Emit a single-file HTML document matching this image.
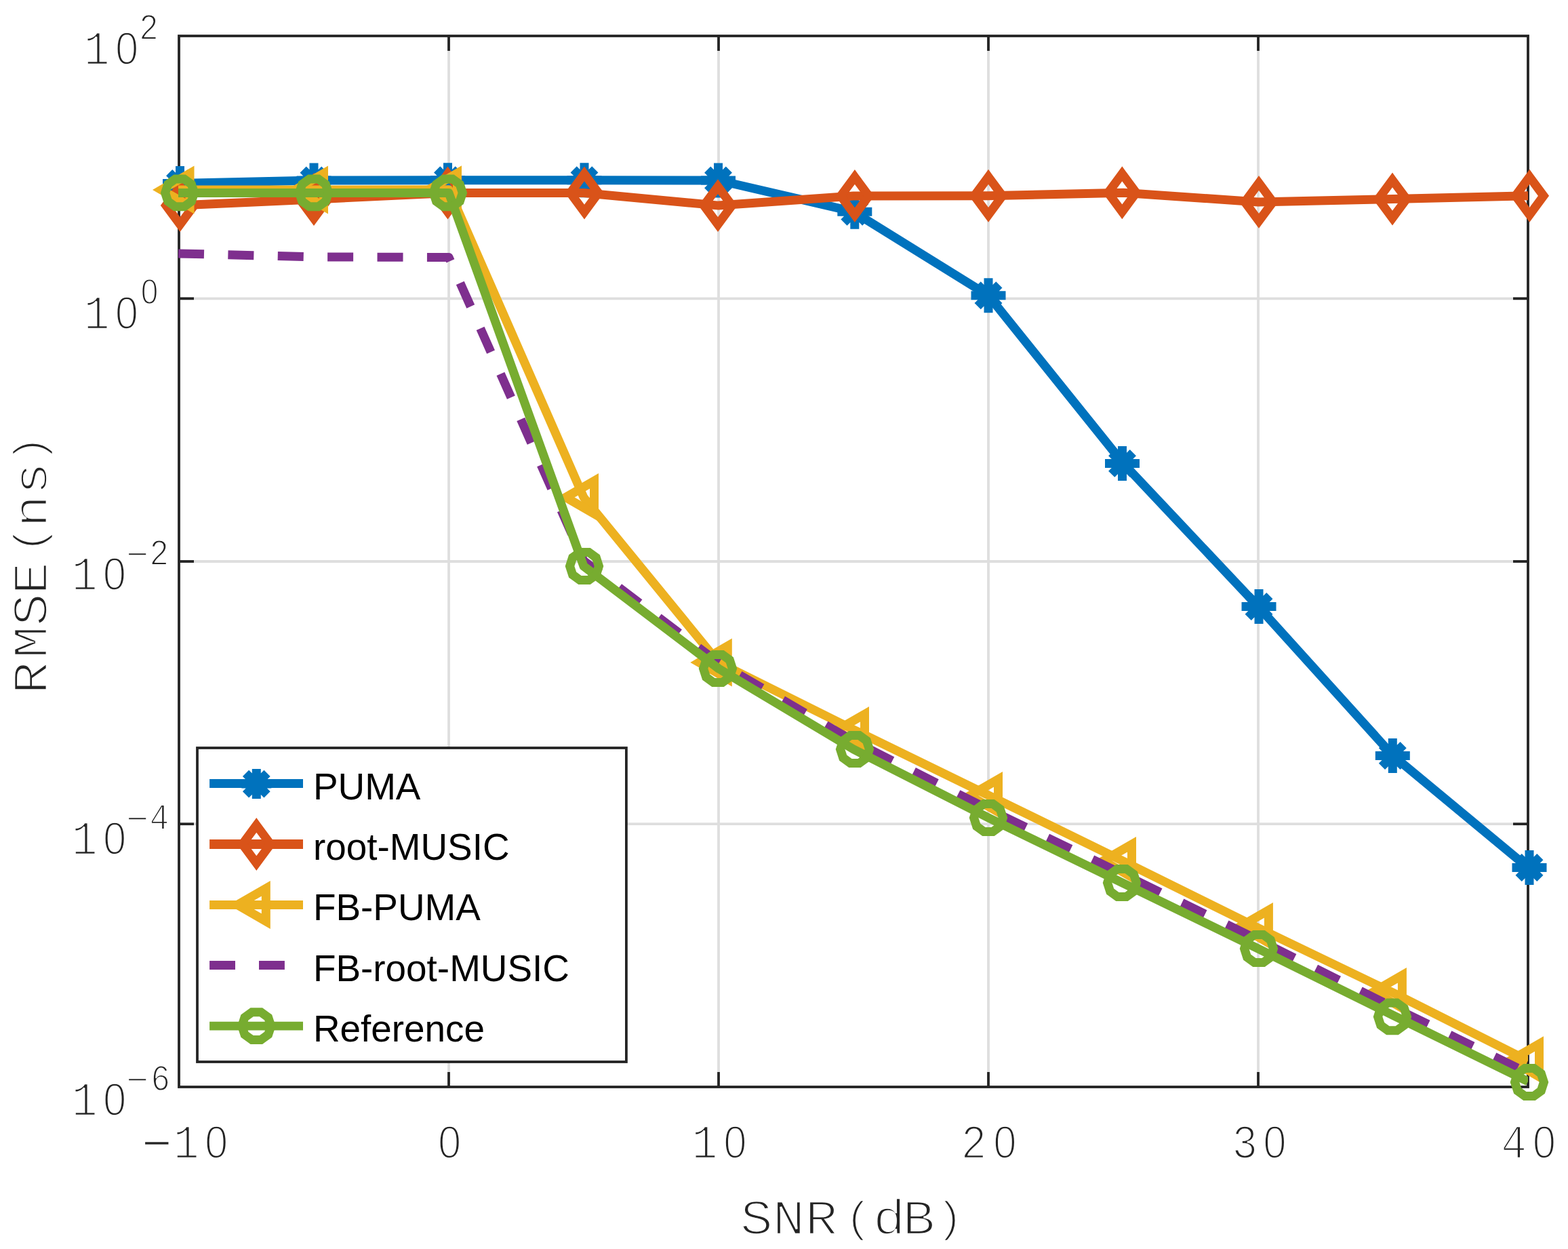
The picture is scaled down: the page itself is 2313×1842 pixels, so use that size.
<!DOCTYPE html>
<html lang="en"><head><meta charset="utf-8"><title>RMSE versus SNR</title>
<style>html,body{margin:0;padding:0;background:#fff}body{width:2313px;height:1842px;overflow:hidden}svg{display:block}.mono{font-family:"Liberation Mono",monospace;fill:#242424}.sans{font-family:"Liberation Sans",sans-serif;fill:#000}.z{font-family:"Liberation Sans",sans-serif}</style></head><body>
<svg width="2313" height="1842" viewBox="0 0 2313 1842">
<defs><clipPath id="ax"><rect x="262.8" y="53" width="1991.2" height="1550"/></clipPath></defs>
<rect width="2313" height="1842" fill="#fff"/>
<g stroke="#dedede" stroke-width="3.8" fill="none">
<line x1="662" y1="53" x2="662" y2="1603"/>
<line x1="1060" y1="53" x2="1060" y2="1603"/>
<line x1="1458" y1="53" x2="1458" y2="1603"/>
<line x1="1856" y1="53" x2="1856" y2="1603"/>
<line x1="264" y1="440.3" x2="2254" y2="440.3"/>
<line x1="264" y1="828" x2="2254" y2="828"/>
<line x1="264" y1="1215.2" x2="2254" y2="1215.2"/>
</g>
<g stroke="#242424" stroke-width="3.8" fill="none" stroke-linecap="butt">
<rect x="264" y="53" width="1990" height="1550"/>
<line x1="662" y1="1603" x2="662" y2="1581"/>
<line x1="662" y1="53" x2="662" y2="75"/>
<line x1="1060" y1="1603" x2="1060" y2="1581"/>
<line x1="1060" y1="53" x2="1060" y2="75"/>
<line x1="1458" y1="1603" x2="1458" y2="1581"/>
<line x1="1458" y1="53" x2="1458" y2="75"/>
<line x1="1856" y1="1603" x2="1856" y2="1581"/>
<line x1="1856" y1="53" x2="1856" y2="75"/>
<line x1="264" y1="440.3" x2="286" y2="440.3"/>
<line x1="2254" y1="440.3" x2="2232" y2="440.3"/>
<line x1="264" y1="828" x2="286" y2="828"/>
<line x1="2254" y1="828" x2="2232" y2="828"/>
<line x1="264" y1="1215.2" x2="286" y2="1215.2"/>
<line x1="2254" y1="1215.2" x2="2232" y2="1215.2"/>
</g>
<g clip-path="url(#ax)"><polyline points="263,270.4 463,266 662,265.7 861,265.7 1060,266 1259,312.2 1458,435.8 1657,683.4 1856,894.5 2055,1114.5 2254,1279.5" stroke="#0072bd" stroke-width="13" fill="none" stroke-linejoin="round"/></g>
<g>
<path d="M240 270.4H291M265.5 244.9V295.9M249.66 254.56L281.34 286.24M249.66 286.24L281.34 254.56" stroke="#0072bd" stroke-width="13" fill="none"/>
<path d="M437.5 266H488.5M463 240.5V291.5M447.16 250.16L478.84 281.84M447.16 281.84L478.84 250.16" stroke="#0072bd" stroke-width="13" fill="none"/>
<path d="M635 265.7H686M660.5 240.2V291.2M644.66 249.86L676.34 281.54M644.66 281.54L676.34 249.86" stroke="#0072bd" stroke-width="13" fill="none"/>
<path d="M836.5 265.7H887.5M862 240.2V291.2M846.16 249.86L877.84 281.54M846.16 281.54L877.84 249.86" stroke="#0072bd" stroke-width="13" fill="none"/>
<path d="M1034 266H1085M1059.5 240.5V291.5M1043.66 250.16L1075.34 281.84M1043.66 281.84L1075.34 250.16" stroke="#0072bd" stroke-width="13" fill="none"/>
<path d="M1235.3 312.2H1286.3M1260.8 286.7V337.7M1244.96 296.36L1276.64 328.04M1244.96 328.04L1276.64 296.36" stroke="#0072bd" stroke-width="13" fill="none"/>
<path d="M1432.5 435.8H1483.5M1458 410.3V461.3M1442.16 419.96L1473.84 451.64M1442.16 451.64L1473.84 419.96" stroke="#0072bd" stroke-width="13" fill="none"/>
<path d="M1630 683.4H1681M1655.5 657.9V708.9M1639.66 667.56L1671.34 699.24M1639.66 699.24L1671.34 667.56" stroke="#0072bd" stroke-width="13" fill="none"/>
<path d="M1831.5 894.5H1882.5M1857 869V920M1841.16 878.66L1872.84 910.34M1841.16 910.34L1872.84 878.66" stroke="#0072bd" stroke-width="13" fill="none"/>
<path d="M2028.8 1114.5H2079.8M2054.3 1089V1140M2038.46 1098.66L2070.14 1130.34M2038.46 1130.34L2070.14 1098.66" stroke="#0072bd" stroke-width="13" fill="none"/>
<path d="M2230.5 1279.5H2281.5M2256 1254V1305M2240.16 1263.66L2271.84 1295.34M2240.16 1295.34L2271.84 1263.66" stroke="#0072bd" stroke-width="13" fill="none"/>
</g>
<g clip-path="url(#ax)"><polyline points="263,303.1 463,294 662,284.5 861,284.5 1060,303.1 1259,289 1458,288.8 1657,284.3 1856,297.9 2055,293.5 2254,288.8" stroke="#d95319" stroke-width="13" fill="none" stroke-linejoin="round"/></g>
<g>
<path d="M265.6 275.1L286.3 303.1L265.6 331.1L244.9 303.1Z" stroke="#d95319" stroke-width="13" fill="none" stroke-linejoin="miter"/>
<path d="M463 266L483.7 294L463 322L442.3 294Z" stroke="#d95319" stroke-width="13" fill="none" stroke-linejoin="miter"/>
<path d="M660.5 256.5L681.2 284.5L660.5 312.5L639.8 284.5Z" stroke="#d95319" stroke-width="13" fill="none" stroke-linejoin="miter"/>
<path d="M862 256.5L882.7 284.5L862 312.5L841.3 284.5Z" stroke="#d95319" stroke-width="13" fill="none" stroke-linejoin="miter"/>
<path d="M1059 275.1L1079.7 303.1L1059 331.1L1038.3 303.1Z" stroke="#d95319" stroke-width="13" fill="none" stroke-linejoin="miter"/>
<path d="M1260.9 261L1281.6 289L1260.9 317L1240.2 289Z" stroke="#d95319" stroke-width="13" fill="none" stroke-linejoin="miter"/>
<path d="M1458 260.8L1478.7 288.8L1458 316.8L1437.3 288.8Z" stroke="#d95319" stroke-width="13" fill="none" stroke-linejoin="miter"/>
<path d="M1655.3 256.3L1676 284.3L1655.3 312.3L1634.6 284.3Z" stroke="#d95319" stroke-width="13" fill="none" stroke-linejoin="miter"/>
<path d="M1857 269.9L1877.7 297.9L1857 325.9L1836.3 297.9Z" stroke="#d95319" stroke-width="13" fill="none" stroke-linejoin="miter"/>
<path d="M2054 265.5L2074.7 293.5L2054 321.5L2033.3 293.5Z" stroke="#d95319" stroke-width="13" fill="none" stroke-linejoin="miter"/>
<path d="M2256.3 260.8L2277 288.8L2256.3 316.8L2235.6 288.8Z" stroke="#d95319" stroke-width="13" fill="none" stroke-linejoin="miter"/>
</g>
<g clip-path="url(#ax)"><polyline points="263,280 463,280 662,279.7 861,733.5 1060,977 1259,1076 1458,1172.8 1657,1270.2 1856,1368.5 2055,1464.2 2254,1564.2" stroke="#edb120" stroke-width="13" fill="none" stroke-linejoin="round"/></g>
<g>
<path d="M238 280L280 255.75L280 304.25Z" stroke="#edb120" stroke-width="13" fill="none" stroke-linejoin="miter"/>
<path d="M435.5 280L477.5 255.75L477.5 304.25Z" stroke="#edb120" stroke-width="13" fill="none" stroke-linejoin="miter"/>
<path d="M632.5 279.7L674.5 255.45L674.5 303.95Z" stroke="#edb120" stroke-width="13" fill="none" stroke-linejoin="miter"/>
<path d="M834.5 733.5L876.5 709.25L876.5 757.75Z" stroke="#edb120" stroke-width="13" fill="none" stroke-linejoin="miter"/>
<path d="M1031.3 977L1073.3 952.75L1073.3 1001.25Z" stroke="#edb120" stroke-width="13" fill="none" stroke-linejoin="miter"/>
<path d="M1233.5 1077.5L1275.5 1053.25L1275.5 1101.75Z" stroke="#edb120" stroke-width="13" fill="none" stroke-linejoin="miter"/>
<path d="M1430.5 1173.5L1472.5 1149.25L1472.5 1197.75Z" stroke="#edb120" stroke-width="13" fill="none" stroke-linejoin="miter"/>
<path d="M1627.5 1269.5L1669.5 1245.25L1669.5 1293.75Z" stroke="#edb120" stroke-width="13" fill="none" stroke-linejoin="miter"/>
<path d="M1829.4 1366.5L1871.4 1342.25L1871.4 1390.75Z" stroke="#edb120" stroke-width="13" fill="none" stroke-linejoin="miter"/>
<path d="M2026.4 1462.6L2068.4 1438.35L2068.4 1486.85Z" stroke="#edb120" stroke-width="13" fill="none" stroke-linejoin="miter"/>
<path d="M2228.5 1563.7L2270.5 1539.45L2270.5 1587.95Z" stroke="#edb120" stroke-width="13" fill="none" stroke-linejoin="miter"/>
</g>
<g clip-path="url(#ax)"><polyline points="263,373.9 463,378.9 662,379.5 861,827 1060,977.5 1259,1093 1458,1193.5 1657,1289.5 1856,1386 2055,1485.5 2254,1582.5" stroke="#7e2f8e" stroke-width="13" fill="none" stroke-linejoin="round" stroke-dasharray="38 35.4"/></g>
<g clip-path="url(#ax)"><polyline points="263,284.4 463,284.45 662,284.4 861,835 1060,986 1259,1105 1458,1206 1657,1302.6 1856,1399.2 2055,1497.4 2254,1595" stroke="#77ac30" stroke-width="13" fill="none" stroke-linejoin="round"/></g>
<g>
<path d="M286.55 284.4L282.45 297.01L271.73 304.8L258.47 304.8L247.75 297.01L243.65 284.4L247.75 271.79L258.47 264L271.73 264L282.45 271.79Z" stroke="#77ac30" stroke-width="13" fill="none" stroke-linejoin="miter"/>
<path d="M484.45 284.45L480.35 297.06L469.63 304.85L456.37 304.85L445.65 297.06L441.55 284.45L445.65 271.84L456.37 264.05L469.63 264.05L480.35 271.84Z" stroke="#77ac30" stroke-width="13" fill="none" stroke-linejoin="miter"/>
<path d="M682.35 284.4L678.25 297.01L667.53 304.8L654.27 304.8L643.55 297.01L639.45 284.4L643.55 271.79L654.27 264L667.53 264L678.25 271.79Z" stroke="#77ac30" stroke-width="13" fill="none" stroke-linejoin="miter"/>
<path d="M883.45 835L879.35 847.61L868.63 855.4L855.37 855.4L844.65 847.61L840.55 835L844.65 822.39L855.37 814.6L868.63 814.6L879.35 822.39Z" stroke="#77ac30" stroke-width="13" fill="none" stroke-linejoin="miter"/>
<path d="M1080.45 986L1076.35 998.61L1065.63 1006.4L1052.37 1006.4L1041.65 998.61L1037.55 986L1041.65 973.39L1052.37 965.6L1065.63 965.6L1076.35 973.39Z" stroke="#77ac30" stroke-width="13" fill="none" stroke-linejoin="miter"/>
<path d="M1282.45 1105L1278.35 1117.61L1267.63 1125.4L1254.37 1125.4L1243.65 1117.61L1239.55 1105L1243.65 1092.39L1254.37 1084.6L1267.63 1084.6L1278.35 1092.39Z" stroke="#77ac30" stroke-width="13" fill="none" stroke-linejoin="miter"/>
<path d="M1479.45 1206L1475.35 1218.61L1464.63 1226.4L1451.37 1226.4L1440.65 1218.61L1436.55 1206L1440.65 1193.39L1451.37 1185.6L1464.63 1185.6L1475.35 1193.39Z" stroke="#77ac30" stroke-width="13" fill="none" stroke-linejoin="miter"/>
<path d="M1676.45 1302L1672.35 1314.61L1661.63 1322.4L1648.37 1322.4L1637.65 1314.61L1633.55 1302L1637.65 1289.39L1648.37 1281.6L1661.63 1281.6L1672.35 1289.39Z" stroke="#77ac30" stroke-width="13" fill="none" stroke-linejoin="miter"/>
<path d="M1878.45 1399L1874.35 1411.61L1863.63 1419.4L1850.37 1419.4L1839.65 1411.61L1835.55 1399L1839.65 1386.39L1850.37 1378.6L1863.63 1378.6L1874.35 1386.39Z" stroke="#77ac30" stroke-width="13" fill="none" stroke-linejoin="miter"/>
<path d="M2075.45 1499.4L2071.35 1512.01L2060.63 1519.8L2047.37 1519.8L2036.65 1512.01L2032.55 1499.4L2036.65 1486.79L2047.37 1479L2060.63 1479L2071.35 1486.79Z" stroke="#77ac30" stroke-width="13" fill="none" stroke-linejoin="miter"/>
<path d="M2277.45 1596L2273.35 1608.61L2262.63 1616.4L2249.37 1616.4L2238.65 1608.61L2234.55 1596L2238.65 1583.39L2249.37 1575.6L2262.63 1575.6L2273.35 1583.39Z" stroke="#77ac30" stroke-width="13" fill="none" stroke-linejoin="miter"/>
</g>
<rect x="291" y="1103" width="632.9" height="463" fill="#fff" stroke="#242424" stroke-width="3.8"/>
<line x1="309.1" y1="1155.5" x2="447" y2="1155.5" stroke="#0072bd" stroke-width="13"/>
<line x1="309.1" y1="1245" x2="447" y2="1245" stroke="#d95319" stroke-width="13.8"/>
<line x1="309.1" y1="1334.5" x2="447" y2="1334.5" stroke="#edb120" stroke-width="13"/>
<line x1="309.1" y1="1423.5" x2="447" y2="1423.5" stroke="#7e2f8e" stroke-width="12.9" stroke-dasharray="37.9 35"/>
<line x1="309.1" y1="1513.2" x2="447" y2="1513.2" stroke="#77ac30" stroke-width="12.8"/>
<path d="M356.3 1156.1H400.3M378.3 1134.1V1178.1M362.53 1140.33L394.07 1171.87M362.53 1171.87L394.07 1140.33" stroke="#0072bd" stroke-width="13" fill="none"/>
<path d="M378.3 1217L399 1245L378.3 1273L357.6 1245Z" stroke="#d95319" stroke-width="13" fill="none" stroke-linejoin="miter"/>
<path d="M350.3 1334.5L392.3 1310.25L392.3 1358.75Z" stroke="#edb120" stroke-width="13" fill="none" stroke-linejoin="miter"/>
<path d="M399.75 1513.2L395.65 1525.81L384.93 1533.6L371.67 1533.6L360.95 1525.81L356.85 1513.2L360.95 1500.59L371.67 1492.8L384.93 1492.8L395.65 1500.59Z" stroke="#77ac30" stroke-width="13" fill="none" stroke-linejoin="miter"/>
<text class="sans" transform="translate(461.9 1179.1) scale(0.98 1)" font-size="56">PUMA</text>
<text class="sans" transform="translate(461.9 1267.8) scale(0.98 1)" font-size="56">root-MUSIC</text>
<text class="sans" transform="translate(461.9 1357.2) scale(0.98 1)" font-size="56">FB-PUMA</text>
<text class="sans" transform="translate(461.9 1446.5) scale(0.98 1)" font-size="56">FB-root-MUSIC</text>
<text class="sans" transform="translate(461.9 1536) scale(0.98 1)" font-size="56">Reference</text>
<text class="mono" transform="scale(0.9 1)" x="231.58 284.18 335.51" y="1714.23 1708.1 1708.1" font-size="70.3" stroke="#fff" stroke-width="2.6"><tspan font-size="84">−</tspan>1<tspan class="z" font-size="68.5">0</tspan></text>
<text class="mono" transform="scale(0.9 1)" x="717.73" y="1708.1" font-size="70.3" stroke="#fff" stroke-width="2.6"><tspan class="z" font-size="68.5">0</tspan></text>
<text class="mono" transform="scale(0.9 1)" x="1134.01 1185.96" y="1708.1 1708.1" font-size="70.3" stroke="#fff" stroke-width="2.6">1<tspan class="z" font-size="68.5">0</tspan></text>
<text class="mono" transform="scale(0.9 1)" x="1575.06 1627.96" y="1708.1 1708.1" font-size="70.3" stroke="#fff" stroke-width="2.6">2<tspan class="z" font-size="68.5">0</tspan></text>
<text class="mono" transform="scale(0.9 1)" x="2019.24 2070.18" y="1708.1 1708.1" font-size="70.3" stroke="#fff" stroke-width="2.6">3<tspan class="z" font-size="68.5">0</tspan></text>
<text class="mono" transform="scale(0.9 1)" x="2460.28 2512.07" y="1708.1 1708.1" font-size="70.3" stroke="#fff" stroke-width="2.6">4<tspan class="z" font-size="68.5">0</tspan></text>
<text class="mono" transform="scale(0.9 1)" x="137.51 188.96" y="95.3" font-size="70.3" stroke="#fff" stroke-width="2.6">1<tspan class="z" font-size="68.5">0</tspan><tspan x="228.08" y="58" font-size="52.8" stroke-width="1.8">2</tspan></text>
<text class="mono" transform="scale(0.9 1)" x="137.51 188.73" y="485" font-size="70.3" stroke="#fff" stroke-width="2.6">1<tspan class="z" font-size="68.5">0</tspan><tspan x="230.93" y="448.4" font-size="52.8" stroke-width="1.8"><tspan class="z" font-size="51">0</tspan></tspan></text>
<text class="mono" transform="scale(0.9 1)" x="117.46 168.73" y="869.9" font-size="70.3" stroke="#fff" stroke-width="2.6">1<tspan class="z" font-size="68.5">0</tspan><tspan x="206.46 244.96" y="838.01 832.6" font-size="52.8" stroke-width="1.8"><tspan font-size="62" stroke-width="2.2">−</tspan>2</tspan></text>
<text class="mono" transform="scale(0.9 1)" x="117.4 168.9" y="1260.1" font-size="70.3" stroke="#fff" stroke-width="2.6">1<tspan class="z" font-size="68.5">0</tspan><tspan x="206.4 245.3" y="1228.21 1222.8" font-size="52.8" stroke-width="1.8"><tspan font-size="62" stroke-width="2.2">−</tspan>4</tspan></text>
<text class="mono" transform="scale(0.9 1)" x="117.4 168.9" y="1645" font-size="70.3" stroke="#fff" stroke-width="2.6">1<tspan class="z" font-size="68.5">0</tspan><tspan x="206.4 247.14" y="1613.12 1608.4" font-size="52.8" stroke-width="1.8"><tspan font-size="62" stroke-width="2.2">−</tspan>6</tspan></text>
<text class="mono" transform="translate(0 1818.85) scale(1 0.89)" x="1091.7 1139.25 1187.21 1244.83 1287.55 1330.95 1378.94" y="1.5 1.5 1.5 -2.26 1.5 1.5 -2.26" font-size="80.67" stroke="#fff" stroke-width="3">SNR<tspan font-size="72">(</tspan>dB<tspan font-size="72">)</tspan></text>
<text class="mono" transform="translate(67.2 1021.6) rotate(-90) scale(1 0.89)" x="-2.44 50.45 98.2 144.56 204.43 243.39 291.55 337.59" y="1.5 1.5 1.5 1.5 -2.26 1.5 1.5 -2.26" font-size="80.67" stroke="#fff" stroke-width="3">RMSE<tspan font-size="72">(</tspan>ns<tspan font-size="72">)</tspan></text>
</svg></body></html>
